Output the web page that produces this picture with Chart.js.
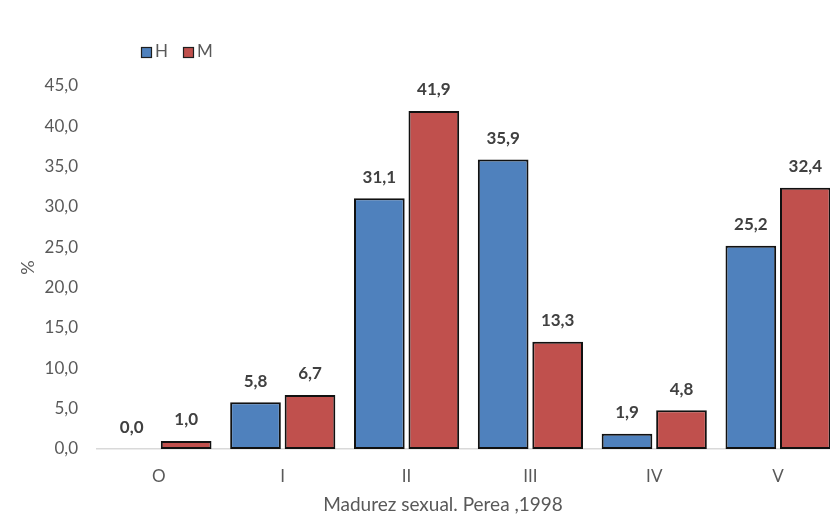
<!DOCTYPE html>
<html>
<head>
<meta charset="utf-8">
<script src="https://cdn.jsdelivr.net/npm/chart.js@4.4.0/dist/chart.umd.min.js"></script>
<style>
  html, body { margin: 0; padding: 0; background: #fff; overflow: hidden; }
  #wrap { width: 845px; height: 519px; }
</style>
</head>
<body>
<div id="wrap"><canvas id="maturityChart" width="845" height="519"></canvas></div>
<script>
const categories = ["O", "I", "II", "III", "IV", "V"];
const seriesNames = ["H", "M"];
const valuesH = [0.0, 5.8, 31.1, 35.9, 1.9, 25.2];
const valuesM = [1.0, 6.7, 41.9, 13.3, 4.8, 32.4];
const colors = ["#4F81BD", "#C0504D"];
const xTitle = "Madurez sexual. Perea ,1998";

const fmt = v => v.toFixed(1).replace(".", ",");
const fontFamily = "Lato, 'Open Sans', sans-serif";

// labels above every bar
const valueLabels = {
    id: "valueLabels",
    afterDatasetsDraw(chart) {
        const ctx = chart.ctx;
        ctx.save();
        ctx.font = "bold 17px " + fontFamily;
        ctx.fillStyle = "#404040";
        ctx.textAlign = "center";
        ctx.textBaseline = "middle";
        chart.data.datasets.forEach((ds, i) => {
            chart.getDatasetMeta(i).data.forEach((bar, j) => {
                ctx.fillText(fmt(ds.data[j]), bar.x, bar.y - 21);
            });
        });
        ctx.restore();
    }
};

// legend at the top left and the x title, placed like the original
const extras = {
    id: "extras",
    afterDraw(chart) {
        const ctx = chart.ctx;
        ctx.save();
        ctx.font = "17px " + fontFamily;
        ctx.textBaseline = "middle";
        let x = 141;
        const y = 52;
        seriesNames.forEach((name, i) => {
            ctx.fillStyle = colors[i];
            ctx.fillRect(x, y - 5, 11, 11);
            ctx.strokeStyle = "#1f1f1f";
            ctx.lineWidth = 1.2;
            ctx.strokeRect(x + 0.5, y - 5 + 0.5, 10, 10);
            ctx.fillStyle = "#595959";
            ctx.fillText(name, x + 14, y);
            x += 42;
        });
        ctx.font = "19px " + fontFamily;
        ctx.textAlign = "center";
        ctx.fillText(xTitle, 443, 505);
        ctx.restore();
    }
};

new Chart(document.getElementById("maturityChart"), {
    type: "bar",
    data: {
        labels: categories,
        datasets: [
            {
                label: seriesNames[0],
                data: valuesH,
                backgroundColor: colors[0],
                borderColor: "#111",
                borderWidth: 2,
                borderSkipped: false
            },
            {
                label: seriesNames[1],
                data: valuesM,
                backgroundColor: colors[1],
                borderColor: "#111",
                borderWidth: 2,
                borderSkipped: false
            }
        ]
    },
    options: {
        responsive: false,
        animation: false,
        layout: { padding: { top: 86, right: 5, left: 0, bottom: 3 } },
        datasets: { bar: { categoryPercentage: 0.88, barPercentage: 0.93 } },
        plugins: {
            legend: { display: false },
            tooltip: { enabled: false }
        },
        scales: {
            x: {
                grid: { display: false, drawTicks: false },
                border: { display: true, color: "#d9d9d9", width: 1.5 },
                ticks: { color: "#595959", font: { size: 17, family: fontFamily }, padding: 17 },
                afterFit(s) { s.height = 67; }
            },
            y: {
                min: 0,
                max: 45,
                grid: { display: false, drawTicks: false },
                border: { display: false },
                ticks: {
                    stepSize: 5,
                    color: "#595959",
                    font: { size: 17, family: fontFamily },
                    padding: 19,
                    callback: v => fmt(v)
                },
                title: {
                    display: true,
                    text: "%",
                    color: "#595959",
                    font: { size: 18, family: fontFamily },
                    padding: { top: 17, bottom: 0 }
                },
                afterFit(s) { s.width = 97; }
            }
        }
    },
    plugins: [valueLabels, extras]
});
</script>
</body>
</html>
